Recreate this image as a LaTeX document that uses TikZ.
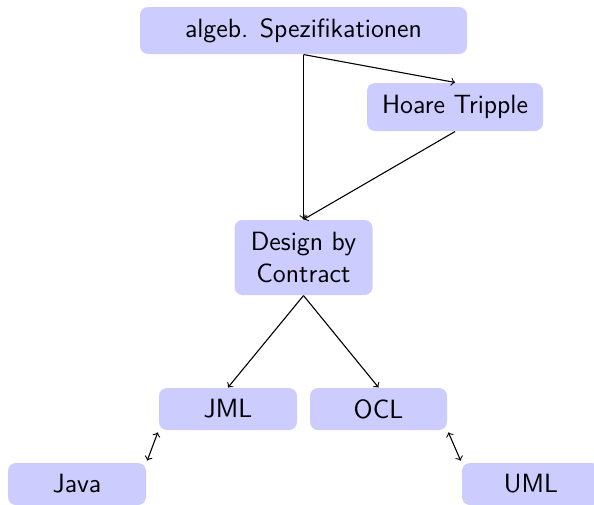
\documentclass[tikz,border=0pt]{standalone}
\usepackage{tikz}

\begin{document}
\begin{tikzpicture}[x=0.5pt,y=-0.5pt,line width=0.55pt,
  block/.style={rectangle, fill=blue!20, rounded corners, align=center,
    inner sep=0pt, font=\sffamily\fontsize{13.2}{15.8}\selectfont}]
\path[use as bounding box, clip] (0,0) rectangle (594,504);
% Knoten
\node [block, minimum width=163.5pt, minimum height=23.5pt] (spec) at (303.5,30.5) {algeb. Spezifikationen};
\node [block, minimum width=88pt, minimum height=24pt] (hoare) at (455,107) {Hoare Tripple};
\node [block, minimum width=69pt, minimum height=37.5pt] (design) at (303.5,257.5) {Design by\\Contract};
\node [block, minimum width=69pt, minimum height=21pt] (jml) at (228,409) {JML};
\node [block, minimum width=68.5pt, minimum height=21pt] (ocl) at (378.5,409) {OCL};
\node [block, minimum width=69pt, minimum height=21pt] (java) at (77,484) {Java};
\node [block, minimum width=69pt, minimum height=21pt] (uml) at (531,484) {UML};
% Pfeile
\draw [->] (spec.south) -- (design.north);
\draw [->] (spec.south) -- (hoare.north);
\draw [->] (hoare.south) -- (design.north);
\draw [->] (design.south) -- (jml.north);
\draw [->] (design.south) -- (ocl.north);
\draw [<->, shorten <=1pt, shorten >=1pt] (jml.south west) -- (java.north east);
\draw [<->, shorten <=1pt, shorten >=1pt] (ocl.south east) -- (uml.north west);
\end{tikzpicture}
\end{document}
